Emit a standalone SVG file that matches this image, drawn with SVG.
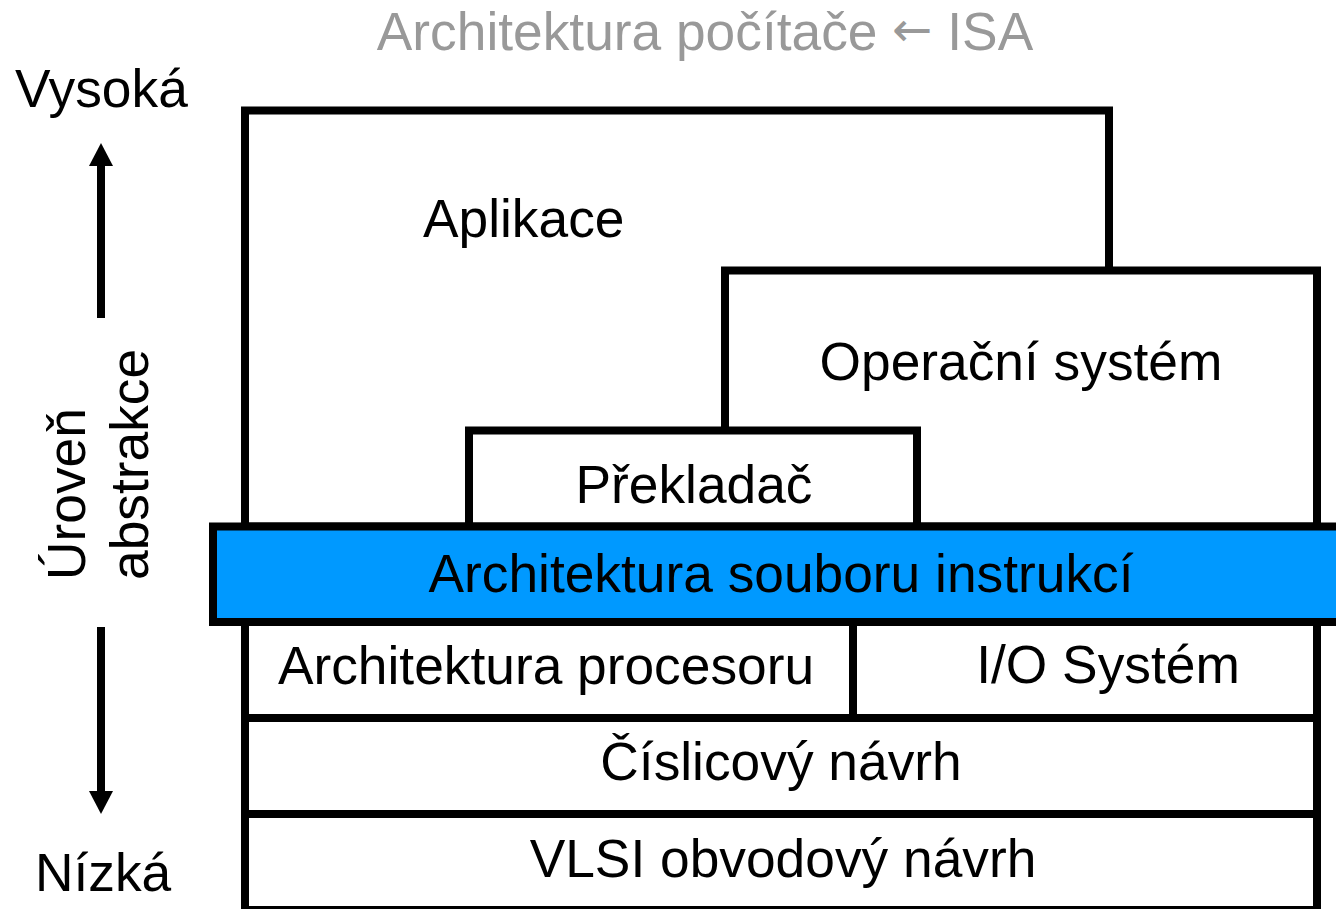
<svg xmlns="http://www.w3.org/2000/svg" width="1336" height="909" viewBox="0 0 1336 909">
<defs>
<style>
.box{fill:#ffffff;stroke:#000000;stroke-width:8}
.isa{fill:#0099FF;stroke:#000000;stroke-width:8}
.lbl{font-family:"Liberation Sans",Arial,sans-serif;font-size:53.3px;fill:#000000}
.mid{text-anchor:middle}
.title{fill:#999999}
.sym{font-family:"DejaVu Sans",sans-serif;font-size:48px}
.arr{stroke:#000000;stroke-width:8;fill:none}
</style>
<marker id="head" markerUnits="userSpaceOnUse" markerWidth="24" markerHeight="24" viewBox="0 0 23 24" refX="0" refY="12" orient="auto">
<path d="M0,0 L23,12 L0,24 z" fill="#000000"/>
</marker>
</defs>
<rect width="1336" height="909" fill="#ffffff"/>
<text id="title" class="lbl title mid" x="705" y="50">Architektura počítače <tspan class="sym" dy="-4">←</tspan><tspan dy="4"> ISA</tspan></text>
<g id="axis">
<text class="lbl" x="15" y="107">Vysoká</text>
<text class="lbl" x="35" y="891">Nízká</text>
<text class="lbl" transform="translate(85,580) rotate(-90)">Úroveň</text>
<text class="lbl" transform="translate(148,580) rotate(-90)">abstrakce</text>
</g>
<g id="connectors">
<line class="arr" x1="101" y1="318" x2="101" y2="166" marker-end="url(#head)"/>
<line class="arr" x1="101" y1="627" x2="101" y2="791" marker-end="url(#head)"/>
</g>
<g id="aplikace">
<rect class="box" x="245" y="110.5" width="864" height="416"/>
<text class="lbl" x="423" y="237">Aplikace</text>
</g>
<g id="os">
<rect class="box" x="725" y="270.5" width="592" height="256"/>
<text class="lbl mid" x="1021" y="380">Operační systém</text>
</g>
<g id="prekladac">
<rect class="box" x="469" y="430.5" width="448" height="96"/>
<text class="lbl mid" x="694" y="503">Překladač</text>
</g>
<g id="isa">
<rect class="isa" x="213" y="526.5" width="1140" height="95.5"/>
<text class="lbl mid" x="781" y="592">Architektura souboru instrukcí</text>
</g>
<g id="procesor">
<rect class="box" x="245" y="622" width="608" height="96"/>
<text class="lbl mid" x="546" y="684">Architektura procesoru</text>
</g>
<g id="io">
<rect class="box" x="853" y="622" width="464" height="96"/>
<text class="lbl mid" x="1108" y="683">I/O Systém</text>
</g>
<g id="cislicovy">
<rect class="box" x="245" y="718" width="1072" height="96"/>
<text class="lbl mid" x="781" y="780">Číslicový návrh</text>
</g>
<g id="vlsi">
<rect class="box" x="245" y="814" width="1072" height="96"/>
<text class="lbl mid" x="783" y="877">VLSI obvodový návrh</text>
</g>
</svg>
